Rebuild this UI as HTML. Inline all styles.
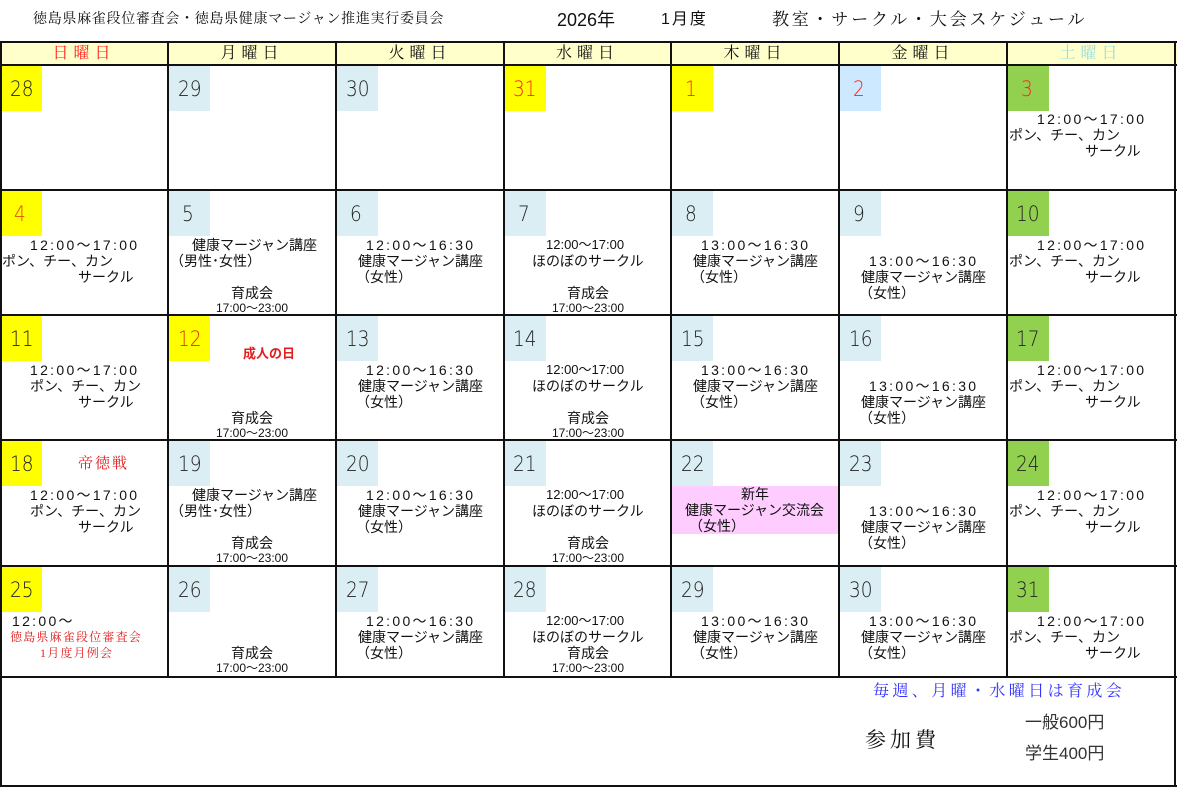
<!DOCTYPE html>
<html><head><meta charset="utf-8"><style>
*{margin:0;padding:0;box-sizing:border-box}
body{width:1177px;height:788px;background:#fff;position:relative;overflow:hidden;font-family:"Liberation Sans","Noto Sans CJK JP",sans-serif;color:#111}
.a{position:absolute}
.t{position:absolute;white-space:nowrap;font-size:14px;line-height:16px}
.tm{letter-spacing:2.3px}
.n{position:absolute;font-size:21px;line-height:24px;font-weight:200;color:#222;font-family:"DejaVu Sans","Liberation Sans",sans-serif;transform:scaleX(0.88);transform-origin:left}
.h{position:absolute;top:43px;height:22px;font-size:16px;line-height:22px;text-align:center;letter-spacing:5px;font-family:"Liberation Serif","Noto Serif CJK SC",serif}
.vl{position:absolute;width:2px;background:#111}
.hl{position:absolute;height:2px;background:#111}
.c{text-align:center;width:168px}
.s{font-size:12px}
.w{font-size:13px}
.r{color:#e02020}
</style></head><body>
<div class="t" style="left:33px;top:12px;font-size:14px;letter-spacing:0.7px;font-family:'Liberation Serif','Noto Serif CJK SC',serif">徳島県麻雀段位審査会・徳島県健康マージャン推進実行委員会</div>
<div class="t" style="left:557px;top:10px;font-size:18px;line-height:20px">2026年</div>
<div class="t" style="left:661px;top:10px;font-size:16px;line-height:20px;letter-spacing:2px">1月度</div>
<div class="t" style="left:772px;top:10px;font-size:17px;line-height:20px;letter-spacing:2.8px;font-family:'Liberation Serif','Noto Serif CJK SC',serif">教室・サークル・大会スケジュール</div>

<div class="a" style="left:0;top:42px;width:1177px;height:23px;background:#ffffcc"></div>
<div class="h" style="left:0;width:168px;color:#ff2020">日曜日</div>
<div class="h" style="left:168px;width:168px">月曜日</div>
<div class="h" style="left:336px;width:168px">火曜日</div>
<div class="h" style="left:504px;width:167px">水曜日</div>
<div class="h" style="left:671px;width:168px">木曜日</div>
<div class="h" style="left:839px;width:168px">金曜日</div>
<div class="h" style="left:1007px;width:168px;color:#99dddd">土曜日</div>

<div class="a" style="left:1px;top:66px;width:41px;height:45px;background:#ffff00"></div><div class="n" style="left:10px;top:77px">28</div>
<div class="a" style="left:169px;top:66px;width:41px;height:45px;background:#daeef3"></div><div class="n" style="left:178px;top:77px">29</div>
<div class="a" style="left:337px;top:66px;width:41px;height:45px;background:#daeef3"></div><div class="n" style="left:346px;top:77px">30</div>
<div class="a" style="left:505px;top:66px;width:41px;height:45px;background:#ffff00"></div><div class="n" style="left:513px;top:77px;color:#f22">31</div>
<div class="a" style="left:672px;top:66px;width:41px;height:45px;background:#ffff00"></div><div class="n" style="left:685px;top:77px;color:#f22">1</div>
<div class="a" style="left:840px;top:66px;width:41px;height:45px;background:#cce9ff"></div><div class="n" style="left:853px;top:77px;color:#f22">2</div>
<div class="a" style="left:1008px;top:66px;width:41px;height:45px;background:#92d050"></div><div class="n" style="left:1021px;top:77px;color:#f22">3</div>

<div class="a" style="left:1px;top:191px;width:41px;height:45px;background:#ffff00"></div><div class="n" style="left:14px;top:202px;color:#e05000">4</div>
<div class="a" style="left:169px;top:191px;width:41px;height:45px;background:#daeef3"></div><div class="n" style="left:182px;top:202px">5</div>
<div class="a" style="left:337px;top:191px;width:41px;height:45px;background:#daeef3"></div><div class="n" style="left:350px;top:202px">6</div>
<div class="a" style="left:505px;top:191px;width:41px;height:45px;background:#daeef3"></div><div class="n" style="left:518px;top:202px">7</div>
<div class="a" style="left:672px;top:191px;width:41px;height:45px;background:#daeef3"></div><div class="n" style="left:685px;top:202px">8</div>
<div class="a" style="left:840px;top:191px;width:41px;height:45px;background:#daeef3"></div><div class="n" style="left:853px;top:202px">9</div>
<div class="a" style="left:1008px;top:191px;width:41px;height:45px;background:#92d050"></div><div class="n" style="left:1016px;top:202px">10</div>

<div class="a" style="left:1px;top:316px;width:41px;height:45px;background:#ffff00"></div><div class="n" style="left:10px;top:327px">11</div>
<div class="a" style="left:169px;top:316px;width:41px;height:45px;background:#ffff00"></div><div class="n" style="left:178px;top:327px;color:#e03000">12</div>
<div class="a" style="left:337px;top:316px;width:41px;height:45px;background:#daeef3"></div><div class="n" style="left:346px;top:327px">13</div>
<div class="a" style="left:505px;top:316px;width:41px;height:45px;background:#daeef3"></div><div class="n" style="left:513px;top:327px">14</div>
<div class="a" style="left:672px;top:316px;width:41px;height:45px;background:#daeef3"></div><div class="n" style="left:681px;top:327px">15</div>
<div class="a" style="left:840px;top:316px;width:41px;height:45px;background:#daeef3"></div><div class="n" style="left:849px;top:327px">16</div>
<div class="a" style="left:1008px;top:316px;width:41px;height:45px;background:#92d050"></div><div class="n" style="left:1016px;top:327px">17</div>

<div class="a" style="left:1px;top:441px;width:41px;height:45px;background:#ffff00"></div><div class="n" style="left:10px;top:452px">18</div>
<div class="a" style="left:169px;top:441px;width:41px;height:45px;background:#daeef3"></div><div class="n" style="left:178px;top:452px">19</div>
<div class="a" style="left:337px;top:441px;width:41px;height:45px;background:#daeef3"></div><div class="n" style="left:346px;top:452px">20</div>
<div class="a" style="left:505px;top:441px;width:41px;height:45px;background:#daeef3"></div><div class="n" style="left:513px;top:452px">21</div>
<div class="a" style="left:672px;top:441px;width:41px;height:45px;background:#daeef3"></div><div class="n" style="left:681px;top:452px">22</div>
<div class="a" style="left:840px;top:441px;width:41px;height:45px;background:#daeef3"></div><div class="n" style="left:849px;top:452px">23</div>
<div class="a" style="left:1008px;top:441px;width:41px;height:45px;background:#92d050"></div><div class="n" style="left:1016px;top:452px">24</div>

<div class="a" style="left:1px;top:567px;width:41px;height:45px;background:#ffff00"></div><div class="n" style="left:10px;top:578px">25</div>
<div class="a" style="left:169px;top:567px;width:41px;height:45px;background:#daeef3"></div><div class="n" style="left:178px;top:578px">26</div>
<div class="a" style="left:337px;top:567px;width:41px;height:45px;background:#daeef3"></div><div class="n" style="left:346px;top:578px">27</div>
<div class="a" style="left:505px;top:567px;width:41px;height:45px;background:#daeef3"></div><div class="n" style="left:513px;top:578px">28</div>
<div class="a" style="left:672px;top:567px;width:41px;height:45px;background:#daeef3"></div><div class="n" style="left:681px;top:578px">29</div>
<div class="a" style="left:840px;top:567px;width:41px;height:45px;background:#daeef3"></div><div class="n" style="left:849px;top:578px">30</div>
<div class="a" style="left:1008px;top:567px;width:41px;height:45px;background:#92d050"></div><div class="n" style="left:1016px;top:578px">31</div>

<div class="a" style="left:672px;top:486px;width:167px;height:48px;background:#ffccff"></div>

<div class="t tm" style="left:1037px;top:111px">12:00～17:00</div>
<div class="t" style="left:1009px;top:127px">ポン、チー、カン</div>
<div class="t" style="left:1085px;top:143px">サークル</div>

<div class="t tm" style="left:30px;top:237px">12:00～17:00</div>
<div class="t" style="left:2px;top:253px">ポン、チー、カン</div>
<div class="t" style="left:78px;top:269px">サークル</div>
<div class="t" style="left:192px;top:237px">健康マージャン講座</div>
<div class="t" style="left:170px;top:253px">（男性･女性）</div>
<div class="t c" style="left:168px;top:285px">育成会</div>
<div class="t c s" style="left:168px;top:300px">17:00～23:00</div>
<div class="t tm" style="left:366px;top:237px">12:00～16:30</div>
<div class="t" style="left:358px;top:253px">健康マージャン講座</div>
<div class="t" style="left:356px;top:269px">（女性）</div>
<div class="t w" style="left:546px;top:237px">12:00～17:00</div>
<div class="t" style="left:532px;top:253px">ほのぼのサークル</div>
<div class="t c" style="left:504px;top:285px">育成会</div>
<div class="t c s" style="left:504px;top:300px">17:00～23:00</div>
<div class="t tm" style="left:701px;top:237px">13:00～16:30</div>
<div class="t" style="left:693px;top:253px">健康マージャン講座</div>
<div class="t" style="left:691px;top:269px">（女性）</div>
<div class="t tm" style="left:869px;top:253px">13:00～16:30</div>
<div class="t" style="left:861px;top:269px">健康マージャン講座</div>
<div class="t" style="left:859px;top:285px">（女性）</div>
<div class="t tm" style="left:1037px;top:237px">12:00～17:00</div>
<div class="t" style="left:1009px;top:253px">ポン、チー、カン</div>
<div class="t" style="left:1085px;top:269px">サークル</div>

<div class="t tm" style="left:30px;top:362px">12:00～17:00</div>
<div class="t" style="left:30px;top:378px">ポン、チー、カン</div>
<div class="t" style="left:78px;top:394px">サークル</div>
<div class="t r" style="left:243px;top:346px;font-size:13px;font-weight:bold">成人の日</div>
<div class="t c" style="left:168px;top:410px">育成会</div>
<div class="t c s" style="left:168px;top:425px">17:00～23:00</div>
<div class="t tm" style="left:366px;top:362px">12:00～16:30</div>
<div class="t" style="left:358px;top:378px">健康マージャン講座</div>
<div class="t" style="left:356px;top:394px">（女性）</div>
<div class="t w" style="left:546px;top:362px">12:00～17:00</div>
<div class="t" style="left:532px;top:378px">ほのぼのサークル</div>
<div class="t c" style="left:504px;top:410px">育成会</div>
<div class="t c s" style="left:504px;top:425px">17:00～23:00</div>
<div class="t tm" style="left:701px;top:362px">13:00～16:30</div>
<div class="t" style="left:693px;top:378px">健康マージャン講座</div>
<div class="t" style="left:691px;top:394px">（女性）</div>
<div class="t tm" style="left:869px;top:378px">13:00～16:30</div>
<div class="t" style="left:861px;top:394px">健康マージャン講座</div>
<div class="t" style="left:859px;top:410px">（女性）</div>
<div class="t tm" style="left:1037px;top:362px">12:00～17:00</div>
<div class="t" style="left:1009px;top:378px">ポン、チー、カン</div>
<div class="t" style="left:1085px;top:394px">サークル</div>

<div class="t r" style="left:78px;top:456px;font-size:15px;letter-spacing:2px;font-family:'Liberation Serif','Noto Serif CJK SC',serif">帝徳戦</div>
<div class="t tm" style="left:30px;top:487px">12:00～17:00</div>
<div class="t" style="left:30px;top:503px">ポン、チー、カン</div>
<div class="t" style="left:78px;top:519px">サークル</div>
<div class="t" style="left:192px;top:487px">健康マージャン講座</div>
<div class="t" style="left:170px;top:503px">（男性･女性）</div>
<div class="t c" style="left:168px;top:535px">育成会</div>
<div class="t c s" style="left:168px;top:550px">17:00～23:00</div>
<div class="t tm" style="left:366px;top:487px">12:00～16:30</div>
<div class="t" style="left:358px;top:503px">健康マージャン講座</div>
<div class="t" style="left:356px;top:519px">（女性）</div>
<div class="t w" style="left:546px;top:487px">12:00～17:00</div>
<div class="t" style="left:532px;top:503px">ほのぼのサークル</div>
<div class="t c" style="left:504px;top:535px">育成会</div>
<div class="t c s" style="left:504px;top:550px">17:00～23:00</div>
<div class="t c" style="left:671px;top:486px">新年</div>
<div class="t" style="left:685px;top:502px">健康マージャン交流会</div>
<div class="t" style="left:689px;top:518px">（女性）</div>
<div class="t tm" style="left:869px;top:503px">13:00～16:30</div>
<div class="t" style="left:861px;top:519px">健康マージャン講座</div>
<div class="t" style="left:859px;top:535px">（女性）</div>
<div class="t tm" style="left:1037px;top:487px">12:00～17:00</div>
<div class="t" style="left:1009px;top:503px">ポン、チー、カン</div>
<div class="t" style="left:1085px;top:519px">サークル</div>

<div class="t tm" style="left:12px;top:613px">12:00～</div>
<div class="t r" style="left:10px;top:629px;font-size:12px;letter-spacing:1.2px;font-family:'Liberation Serif','Noto Serif CJK SC',serif">徳島県麻雀段位審査会</div>
<div class="t r" style="left:40px;top:645px;font-size:12px;letter-spacing:1.2px;font-family:'Liberation Serif','Noto Serif CJK SC',serif">1月度月例会</div>
<div class="t c" style="left:168px;top:645px">育成会</div>
<div class="t c s" style="left:168px;top:660px">17:00～23:00</div>
<div class="t tm" style="left:366px;top:613px">12:00～16:30</div>
<div class="t" style="left:358px;top:629px">健康マージャン講座</div>
<div class="t" style="left:356px;top:645px">（女性）</div>
<div class="t w" style="left:546px;top:613px">12:00～17:00</div>
<div class="t" style="left:532px;top:629px">ほのぼのサークル</div>
<div class="t c" style="left:504px;top:645px">育成会</div>
<div class="t c s" style="left:504px;top:660px">17:00～23:00</div>
<div class="t tm" style="left:701px;top:613px">13:00～16:30</div>
<div class="t" style="left:693px;top:629px">健康マージャン講座</div>
<div class="t" style="left:691px;top:645px">（女性）</div>
<div class="t tm" style="left:869px;top:613px">13:00～16:30</div>
<div class="t" style="left:861px;top:629px">健康マージャン講座</div>
<div class="t" style="left:859px;top:645px">（女性）</div>
<div class="t tm" style="left:1037px;top:613px">12:00～17:00</div>
<div class="t" style="left:1009px;top:629px">ポン、チー、カン</div>
<div class="t" style="left:1085px;top:645px">サークル</div>

<div class="t" style="left:873px;top:682px;font-size:16px;line-height:20px;letter-spacing:3.4px;color:#3333ff;font-family:'Liberation Serif','Noto Serif CJK SC',serif">毎週、月曜・水曜日は育成会</div>
<div class="t" style="left:865px;top:728px;font-size:21px;line-height:24px;letter-spacing:4px;font-family:'Liberation Serif','Noto Serif CJK SC',serif">参加費</div>
<div class="t" style="left:1025px;top:713px;font-size:17px;line-height:20px;color:#333">一般600円</div>
<div class="t" style="left:1025px;top:744px;font-size:17px;line-height:20px;color:#333">学生400円</div>

<div class="hl" style="left:0;top:41px;width:1177px"></div>
<div class="hl" style="left:0;top:64px;width:1177px"></div>
<div class="hl" style="left:0;top:189px;width:1177px"></div>
<div class="hl" style="left:0;top:314px;width:1177px"></div>
<div class="hl" style="left:0;top:439px;width:1177px"></div>
<div class="hl" style="left:0;top:565px;width:1177px"></div>
<div class="hl" style="left:0;top:676px;width:1177px"></div>
<div class="hl" style="left:0;top:785px;width:1177px"></div>
<div class="vl" style="left:0;top:41px;height:746px"></div>
<div class="vl" style="left:167px;top:41px;height:637px"></div>
<div class="vl" style="left:335px;top:41px;height:637px"></div>
<div class="vl" style="left:503px;top:41px;height:637px"></div>
<div class="vl" style="left:670px;top:41px;height:637px"></div>
<div class="vl" style="left:838px;top:41px;height:637px"></div>
<div class="vl" style="left:1006px;top:41px;height:637px"></div>
<div class="vl" style="left:1174px;top:41px;height:746px"></div>
</body></html>
